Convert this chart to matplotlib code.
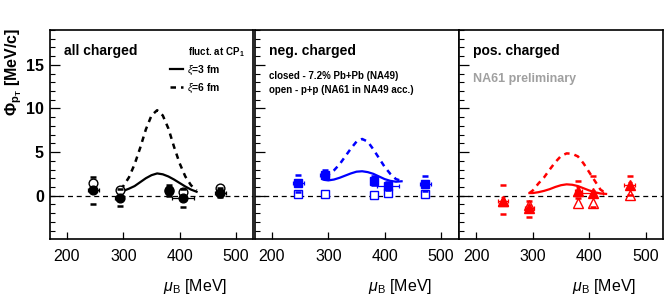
import numpy as np
import matplotlib
matplotlib.use("Agg")
import matplotlib.pyplot as plt
from matplotlib.ticker import MultipleLocator

plt.rcParams['font.family'] = ['Liberation Sans', 'DejaVu Sans']
plt.rcParams['mathtext.fontset'] = 'custom'
plt.rcParams['mathtext.rm'] = 'Liberation Sans'
plt.rcParams['mathtext.it'] = 'Liberation Sans:italic'
plt.rcParams['mathtext.bf'] = 'Liberation Sans:bold'

# energies (mu_B) of the data points
mu = [247, 294, 381, 406, 472]
mu_err = [9, 8, 6, 19, 10]

# all charged
all_closed = [0.6, -0.25, 0.6, -0.25, 0.3]
all_closed_err = [0.35, 0.3, 0.4, 0.3, 0.3]
all_sys_lo = [-0.9, -1.2, 0.0, -1.25, -0.2]
all_sys_hi = [2.1, 0.8, 1.2, 0.8, 0.9]
all_open = [1.5, 0.7, 0.55, 0.45, 0.85]

# negatively charged
neg_closed = [1.4, 2.4, 1.7, 1.15, 1.35]
neg_closed_err = [0.3, 0.3, 0.3, 0.3, 0.3]
neg_sys_lo = [0.4, 1.9, 1.2, 0.7, 0.5]
neg_sys_hi = [2.4, 2.9, 2.2, 1.6, 2.2]
neg_open = [0.2, 0.15, 0.05, 0.3, 0.2]

# positively charged
pos_closed = [-0.6, -1.45, 0.55, 0.3, 1.2]
pos_closed_err = [0.4, 0.4, 0.4, 0.4, 0.4]
pos_sys_lo = [-2.1, -2.4, -0.3, -1.25, 0.1]
pos_sys_hi = [1.2, -0.6, 1.7, 2.3, 2.3]
pos_open = [-0.6, -1.1, -0.8, -0.8, 0.1]

# CP model curves (xi = 3 fm solid, xi = 6 fm dashed)
mu_th = [294, 300, 310, 320, 330, 340, 350, 360, 370, 380, 390, 400, 410, 420, 430]
all_xi3 = [0.45, 0.55, 0.8, 1.1, 1.55, 2.0, 2.35, 2.55, 2.45, 2.2, 1.85, 1.45, 1.05, 0.7, 0.45]
all_xi6 = [0.8, 1.1, 2.1, 3.6, 5.5, 7.6, 9.2, 9.8, 9.2, 7.7, 5.6, 3.7, 2.2, 1.2, 0.6]
neg_xi3 = [1.8, 1.75, 1.85, 2.05, 2.3, 2.55, 2.75, 2.8, 2.7, 2.5, 2.2, 1.9, 1.7, 1.6, 1.65]
neg_xi6 = [2.2, 2.4, 2.9, 3.6, 4.5, 5.4, 6.2, 6.5, 6.2, 5.3, 4.3, 3.3, 2.5, 1.9, 1.7]
pos_xi3 = [0.3, 0.3, 0.4, 0.55, 0.75, 1.0, 1.2, 1.3, 1.25, 1.1, 0.85, 0.6, 0.4, 0.25, 0.2]
pos_xi6 = [0.3, 0.6, 1.4, 2.1, 3.0, 3.85, 4.55, 4.85, 4.8, 4.5, 3.7, 2.7, 1.7, 0.7, 0.25]

panels = [
    ("all charged", "black", "o", all_closed, all_closed_err, all_sys_lo, all_sys_hi, all_open, all_xi3, all_xi6),
    ("neg. charged", "#0000ff", "s", neg_closed, neg_closed_err, neg_sys_lo, neg_sys_hi, neg_open, neg_xi3, neg_xi6),
    ("pos. charged", "#ff0000", "^", pos_closed, pos_closed_err, pos_sys_lo, pos_sys_hi, pos_open, pos_xi3, pos_xi6),
]

fig = plt.figure(figsize=(6.64, 2.99), dpi=100)
lefts = [49.5, 254.5, 459]
width = 204
axes = []
for i, p in enumerate(panels):
    ax = fig.add_axes([lefts[i] / 664, 1 - 239 / 299, width / 664, 209 / 299])
    axes.append(ax)
    name, col, mk, yc, yerr, slo, shi, yo, th3, th6 = p

    ax.axhline(0, color="black", ls=(0, (4, 3)), lw=0.9, zorder=1)

    l3, = ax.plot(mu_th, th3, color=col, lw=1.6, zorder=2)
    l6, = ax.plot(mu_th, th6, color=col, lw=1.8, ls=(0, (2.2, 2.0)), zorder=2)

    ms = 7 if mk == "^" else 6.3
    ax.plot(mu, yo, mk, mfc="white", mec=col, mew=1.0, ms=ms, zorder=3)
    ax.errorbar(mu, yc, xerr=mu_err, yerr=yerr, fmt=mk, color=col, ms=ms,
                elinewidth=0.9, capsize=1.5, capthick=0.9, zorder=4)
    ax.plot(mu, slo, "_", color=col, ms=4.5, mew=1.8, zorder=4)
    ax.plot(mu, shi, "_", color=col, ms=4.5, mew=1.8, zorder=4)

    ax.set_xlim(169, 531)
    ax.set_ylim(-4.97, 19)
    ax.xaxis.set_major_locator(MultipleLocator(100))
    ax.yaxis.set_major_locator(MultipleLocator(5))
    ax.yaxis.set_minor_locator(MultipleLocator(1))
    ax.tick_params(axis="both", which="both", direction="in", top=False, right=False)
    ax.tick_params(axis="y", which="major", length=7, width=0.9)
    ax.tick_params(axis="y", which="minor", length=3.5, width=0.8)
    ax.tick_params(axis="x", which="major", length=5, width=0.9, labelsize=11.5, pad=7)
    if i == 0:
        ax.tick_params(axis="y", labelsize=11.5, pad=4)
        for t in ax.get_yticklabels():
            t.set_fontweight("bold")
    else:
        ax.set_yticklabels([])
    for s in ax.spines.values():
        s.set_linewidth(1.2)

    ax.text(0.07, 0.90, name, transform=ax.transAxes, fontsize=10, fontweight="bold",
            va="center", ha="left")
    ax.text(0.87, -0.225, r"$\mu_{\rm B}$ [MeV]", transform=ax.transAxes, fontsize=11.5,
            ha="right", va="center")

    if i == 0:
        ax.text(0.955, 0.895, r"fluct. at CP$_{\bf 1}$", transform=ax.transAxes, fontsize=7,
                fontweight="bold", ha="right", va="center")
        leg = ax.legend([l3, l6], [r"$\xi$=3 fm", r"$\xi$=6 fm"], loc="upper left",
                        bbox_to_anchor=(0.57, 0.86), frameon=False, fontsize=7.5,
                        handlelength=1.3, handletextpad=0.3, labelspacing=0.5,
                        borderaxespad=0)
        for t in leg.get_texts():
            t.set_fontweight("bold")

axes[1].text(0.07, 0.78, "closed - 7.2% Pb+Pb (NA49)", transform=axes[1].transAxes,
             fontsize=7, fontweight="bold", va="center")
axes[1].text(0.07, 0.715, "open - p+p (NA61 in NA49 acc.)", transform=axes[1].transAxes,
             fontsize=7, fontweight="bold", va="center")
axes[2].text(0.07, 0.765, "NA61 preliminary", transform=axes[2].transAxes,
             fontsize=9, fontweight="bold", color="#a0a0a0", va="center")

fig.text(0.021, 0.76, r"$\mathbf{\Phi_{p_{T}}}$ [MeV/c]", rotation=90, fontsize=11.5,
         fontweight="bold", ha="center", va="center")

fig.savefig("out.png", dpi=100)
